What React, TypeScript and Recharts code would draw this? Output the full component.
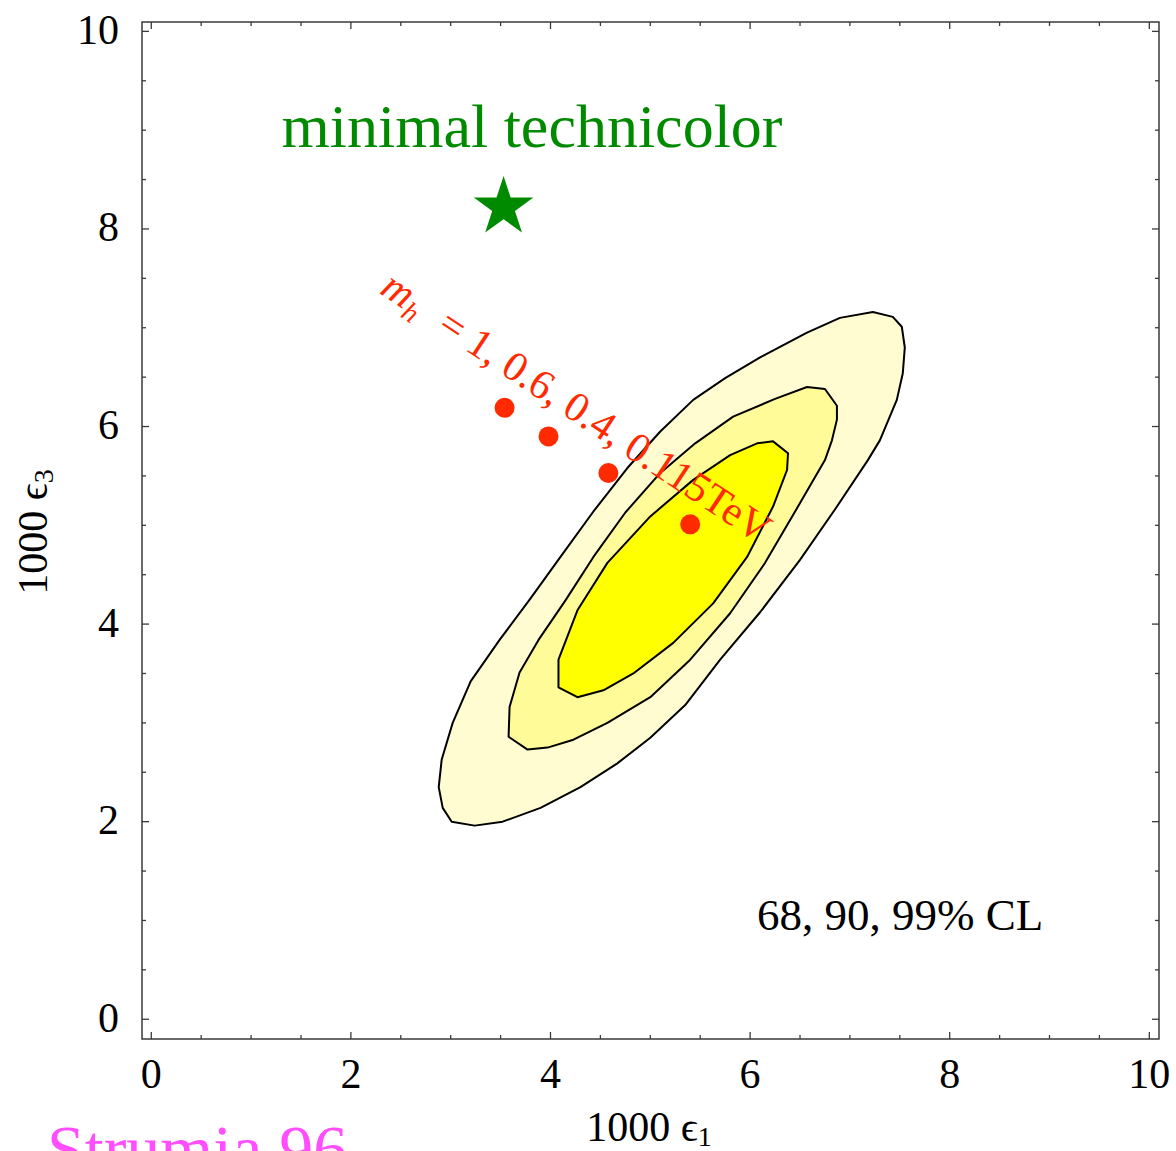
import React from 'react'
import { ScatterChart, Scatter, XAxis, YAxis, ReferenceArea, Polygon, Symbols, Customized } from 'recharts'

const FONT = "'Liberation Serif', 'Times New Roman', Times, serif"
const FRAME = '#3a3a3a'
const GREEN = '#008a00'
const RED = '#ff2a00'

const X_TICKS = [0, 0.5, 1, 1.5, 2, 2.5, 3, 3.5, 4, 4.5, 5, 5.5, 6, 6.5, 7, 7.5, 8, 8.5, 9, 9.5, 10]
const Y_TICKS = [0, 0.5, 1, 1.5, 2, 2.5, 3, 3.5, 4, 4.5, 5, 5.5, 6, 6.5, 7, 7.5, 8, 8.5, 9, 9.5, 10]

// 99% CL contour (outer)
const CL99 = [
  { e1: 7.23, e3: 7.16 }, { e1: 7.43, e3: 7.11 }, { e1: 7.52, e3: 7.01 }, { e1: 7.55, e3: 6.8 },
  { e1: 7.53, e3: 6.54 }, { e1: 7.47, e3: 6.27 }, { e1: 7.3, e3: 5.86 }, { e1: 7.18, e3: 5.66 },
  { e1: 6.85, e3: 5.16 }, { e1: 6.5, e3: 4.65 }, { e1: 6.1, e3: 4.12 }, { e1: 5.7, e3: 3.64 },
  { e1: 5.35, e3: 3.18 }, { e1: 5.0, e3: 2.85 }, { e1: 4.67, e3: 2.59 }, { e1: 4.3, e3: 2.35 },
  { e1: 3.9, e3: 2.14 }, { e1: 3.52, e3: 2.0 }, { e1: 3.24, e3: 1.96 }, { e1: 3.01, e3: 2.0 },
  { e1: 2.92, e3: 2.14 }, { e1: 2.88, e3: 2.35 }, { e1: 2.91, e3: 2.63 }, { e1: 3.02, e3: 3.0 },
  { e1: 3.2, e3: 3.42 }, { e1: 3.49, e3: 3.84 }, { e1: 3.8, e3: 4.26 }, { e1: 4.1, e3: 4.68 },
  { e1: 4.43, e3: 5.14 }, { e1: 4.77, e3: 5.58 }, { e1: 5.1, e3: 5.95 }, { e1: 5.43, e3: 6.27 },
  { e1: 5.75, e3: 6.49 }, { e1: 6.1, e3: 6.7 }, { e1: 6.57, e3: 6.95 }, { e1: 6.9, e3: 7.1 },
]

// 90% CL contour (middle)
const CL90 = [
  { e1: 6.57, e3: 6.4 }, { e1: 6.75, e3: 6.38 }, { e1: 6.87, e3: 6.21 }, { e1: 6.87, e3: 6.07 },
  { e1: 6.82, e3: 5.86 }, { e1: 6.75, e3: 5.66 }, { e1: 6.48, e3: 5.19 }, { e1: 6.15, e3: 4.62 },
  { e1: 5.8, e3: 4.11 }, { e1: 5.4, e3: 3.64 }, { e1: 5.0, e3: 3.26 }, { e1: 4.57, e3: 3.0 },
  { e1: 4.23, e3: 2.83 }, { e1: 3.97, e3: 2.75 }, { e1: 3.77, e3: 2.73 }, { e1: 3.58, e3: 2.86 },
  { e1: 3.59, e3: 3.16 }, { e1: 3.69, e3: 3.51 }, { e1: 3.88, e3: 3.84 }, { e1: 4.15, e3: 4.24 },
  { e1: 4.43, e3: 4.68 }, { e1: 4.75, e3: 5.13 }, { e1: 5.1, e3: 5.53 }, { e1: 5.45, e3: 5.83 },
  { e1: 5.83, e3: 6.1 }, { e1: 6.25, e3: 6.28 },
]

// 68% CL contour (inner)
const CL68 = [
  { e1: 6.07, e3: 5.83 }, { e1: 6.23, e3: 5.85 }, { e1: 6.38, e3: 5.73 }, { e1: 6.37, e3: 5.56 },
  { e1: 6.23, e3: 5.19 }, { e1: 5.97, e3: 4.68 }, { e1: 5.63, e3: 4.21 }, { e1: 5.23, e3: 3.81 },
  { e1: 4.83, e3: 3.5 }, { e1: 4.53, e3: 3.33 }, { e1: 4.27, e3: 3.26 }, { e1: 4.08, e3: 3.36 },
  { e1: 4.08, e3: 3.64 }, { e1: 4.27, e3: 4.14 }, { e1: 4.57, e3: 4.62 }, { e1: 5.0, e3: 5.09 },
  { e1: 5.43, e3: 5.46 }, { e1: 5.8, e3: 5.71 },
]

// SM prediction for mh = 1, 0.6, 0.4, 0.115 TeV
const HIGGS = [
  { e1: 3.54, e3: 6.19 },
  { e1: 3.98, e3: 5.9 },
  { e1: 4.58, e3: 5.53 },
  { e1: 5.4, e3: 5.01 },
]

const TECHNICOLOR = [{ e1: 3.53, e3: 8.22 }]

const X_DOMAIN = [-0.093, 10.097]
const Y_DOMAIN = [-0.2, 10.095]
const PLOT_W = 1017
const PLOT_H = 1017

function XTick(props: any) {
  const { x, y, payload } = props
  const v = payload.value
  const major = v % 2 === 0
  const len = major ? 7 : 4
  return (
    <g>
      <line x1={x} x2={x} y1={y} y2={y - len} stroke={FRAME} strokeWidth={1.3} />
      <line x1={x} x2={x} y1={y - PLOT_H} y2={y - PLOT_H + len} stroke={FRAME} strokeWidth={1.3} />
      {major && (
        <text x={x} y={y + 49} textAnchor="middle" fontFamily={FONT} fontSize={42} fill="#000">
          {v}
        </text>
      )}
    </g>
  )
}

function YTick(props: any) {
  const { x, y, payload } = props
  const v = payload.value
  const major = v % 2 === 0
  const len = major ? 7 : 4
  return (
    <g>
      <line x1={x} x2={x + len} y1={y} y2={y} stroke={FRAME} strokeWidth={1.3} />
      <line x1={x + PLOT_W} x2={x + PLOT_W - len} y1={y} y2={y} stroke={FRAME} strokeWidth={1.3} />
      {major && (
        <text x={x - 23} y={y + 12.5} textAnchor="end" fontFamily={FONT} fontSize={42} fill="#000">
          {v}
        </text>
      )}
    </g>
  )
}

const contour = (fill: string) => (p: any) => (
  <Polygon points={p.points} fill={fill} stroke="#000" strokeWidth={2} strokeLinejoin="round" />
)

const noShape = () => <g />

// rotated mh label, hung off the first Higgs point so it sits above the contours
function HiggsLabel(p: any) {
  const x = p.cx - 126
  const y = p.cy - 115
  return (
    <text x={x} y={y} fontFamily={FONT} fontSize={42} fill={RED} transform={`rotate(33.5 ${x} ${y})`}>
      <tspan fontStyle="italic">m</tspan>
      <tspan fontStyle="italic" fontSize={28} dy={8}>h</tspan>
      <tspan dx={24} dy={-8}>= 1, 0.6, 0.4, 0.115TeV</tspan>
    </text>
  )
}

function Annotations() {
  return (
    <g fontFamily={FONT}>
      <text x={532} y={147} textAnchor="middle" fontSize={62} fill={GREEN}>
        minimal technicolor
      </text>
      <text x={757} y={930} fontSize={45} fill="#000">
        68, 90, 99% CL
      </text>
      <text x={649} y={1141} textAnchor="middle" fontSize={42} fill="#000">
        <tspan>1000 ϵ</tspan>
        <tspan fontSize={28} dy={5}>1</tspan>
      </text>
      <text x={47} y={532} textAnchor="middle" fontSize={42} fill="#000" transform="rotate(-90 47 532)">
        <tspan>1000 ϵ</tspan>
        <tspan fontSize={28} dy={6}>3</tspan>
      </text>
      <text x={47} y={1172} fontSize={68} fill="#ff4dff">
        Strumia 96
      </text>
    </g>
  )
}

export default function App() {
  return (
    <div style={{ position: 'absolute', left: 0, top: 0, background: '#fff' }}>
      <ScatterChart width={1176} height={1151} margin={{ top: 22, right: 17, bottom: 52, left: 0 }}>
        <XAxis
          type="number"
          dataKey="e1"
          domain={X_DOMAIN}
          allowDataOverflow
          ticks={X_TICKS}
          interval={0}
          tick={<XTick />}
          tickSize={0}
          tickMargin={0}
          tickLine={false}
          axisLine={false}
          height={60}
        />
        <YAxis
          type="number"
          dataKey="e3"
          domain={Y_DOMAIN}
          allowDataOverflow
          ticks={Y_TICKS}
          interval={0}
          tick={<YTick />}
          tickSize={0}
          tickMargin={0}
          tickLine={false}
          axisLine={false}
          width={142}
        />
        <Scatter data={CL99} line={contour('#fffcd2')} shape={noShape} isAnimationActive={false} />
        <Scatter data={CL90} line={contour('#fffb98')} shape={noShape} isAnimationActive={false} />
        <Scatter data={CL68} line={contour('#ffff00')} shape={noShape} isAnimationActive={false} />
        <Scatter
          data={HIGGS}
          shape={(p: any) => <circle cx={p.cx} cy={p.cy} r={10} fill={RED} />}
          isAnimationActive={false}
        />
        <Scatter data={HIGGS.slice(0, 1)} shape={HiggsLabel} isAnimationActive={false} />
        <Scatter
          data={TECHNICOLOR}
          shape={(p: any) => <Symbols cx={p.cx} cy={p.cy} type="star" size={1100} fill={GREEN} />}
          isAnimationActive={false}
        />
        <ReferenceArea
          x1={X_DOMAIN[0]}
          x2={X_DOMAIN[1]}
          y1={Y_DOMAIN[0]}
          y2={Y_DOMAIN[1]}
          fill="none"
          fillOpacity={0}
          stroke={FRAME}
          strokeWidth={1.5}
        />
        <Customized component={<Annotations />} />
      </ScatterChart>
    </div>
  )
}
